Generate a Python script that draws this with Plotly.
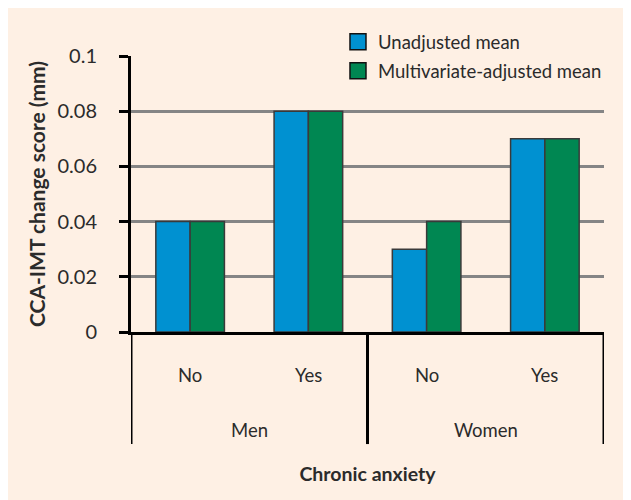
import plotly.graph_objects as go

groups = ["Men", "Men", "Women", "Women"]
anxiety = ["No", "Yes", "No", "Yes"]
unadjusted = [0.04, 0.08, 0.03, 0.07]
adjusted = [0.04, 0.08, 0.04, 0.07]
series_names = ["Unadjusted mean", "Multivariate-adjusted mean"]
yticks = [0, 0.02, 0.04, 0.06, 0.08, 0.1]
yticklabels = ["0", "0.02", "0.04", "0.06", "0.08", "0.1"]

BG = "#FEF0E4"
BLUE = "#0091D1"
GREEN = "#008752"
EDGE = "#3a3a3a"
TXT = "#2b2b2b"
FONT = "Lato, Open Sans, sans-serif"
FS = 18.5

cats = [f"{g} {a}" for g, a in zip(groups, anxiety)]

fig = go.Figure()
for vals, name, col, grp in [(unadjusted, series_names[0], BLUE, "a"),
                             (adjusted, series_names[1], GREEN, "b")]:
    fig.add_trace(go.Bar(x=cats, y=vals, name=name, showlegend=False, legendgroup=grp,
                         marker=dict(color=col, line=dict(color=EDGE, width=1.5))))
    # legend entry (square swatch)
    fig.add_trace(go.Scatter(x=[None], y=[None], mode="markers", name=name, legendgroup=grp,
                             marker=dict(symbol="square", size=16, color=col,
                                         line=dict(color="#111111", width=1.5))))

annotations = []
# lower-level labels (chronic anxiety)
for c, a in zip(cats, anxiety):
    annotations.append(dict(x=c, xref="x", y=-0.156, yref="paper", text=a,
                            showarrow=False, yanchor="middle",
                            font=dict(size=FS, color=TXT)))
# group labels and dividers
shapes = []
uniq = list(dict.fromkeys(groups))
bounds = []
for g in uniq:
    idx = [i for i, gg in enumerate(groups) if gg == g]
    center = sum(idx) / len(idx)
    annotations.append(dict(x=center, xref="x", y=-0.355, yref="paper", text=g,
                            showarrow=False, yanchor="middle",
                            font=dict(size=FS, color=TXT)))
    bounds.append(min(idx) - 0.5)
bounds.append(len(groups) - 0.5)
for b in bounds:
    shapes.append(dict(type="line", xref="x", yref="paper", x0=b, x1=b, y0=0, y1=-0.406,
                       line=dict(color="black", width=3)))

fig.update_layout(
    width=631, height=500,
    margin=dict(l=123, r=35, t=48, b=176),
    paper_bgcolor=BG, plot_bgcolor=BG,
    barmode="group", bargap=0.42, bargroupgap=0,
    font=dict(family=FONT, size=FS, color=TXT),
    legend=dict(x=0.4376, y=1.119, xanchor="left", yanchor="top",
                bgcolor="rgba(0,0,0,0)", font=dict(size=FS, color=TXT),
                tracegroupgap=2, itemsizing="trace"),
    showlegend=True,
    annotations=annotations,
    shapes=shapes,
)
fig.update_yaxes(range=[0, 0.1], tickvals=yticks, ticktext=yticklabels,
                 showgrid=True, gridcolor="#858585", gridwidth=3,
                 showline=True, linecolor="black", linewidth=3,
                 ticks="outside", ticklen=9, tickwidth=3, tickcolor="black",
                 ticklabelstandoff=18,
                 tickfont=dict(size=20, color=TXT), zeroline=False,
                 title=dict(text="<b>CCA-IMT change score (mm)</b>", font=dict(size=21, color=TXT),
                            standoff=7))
fig.update_xaxes(range=[-0.5, len(cats) - 0.5],
                 showline=True, linecolor="black", linewidth=3,
                 showticklabels=False, ticks="",
                 title=dict(text="<b>Chronic anxiety</b>", font=dict(size=19.5, color=TXT),
                            standoff=134))

fig.write_html("out.html")
